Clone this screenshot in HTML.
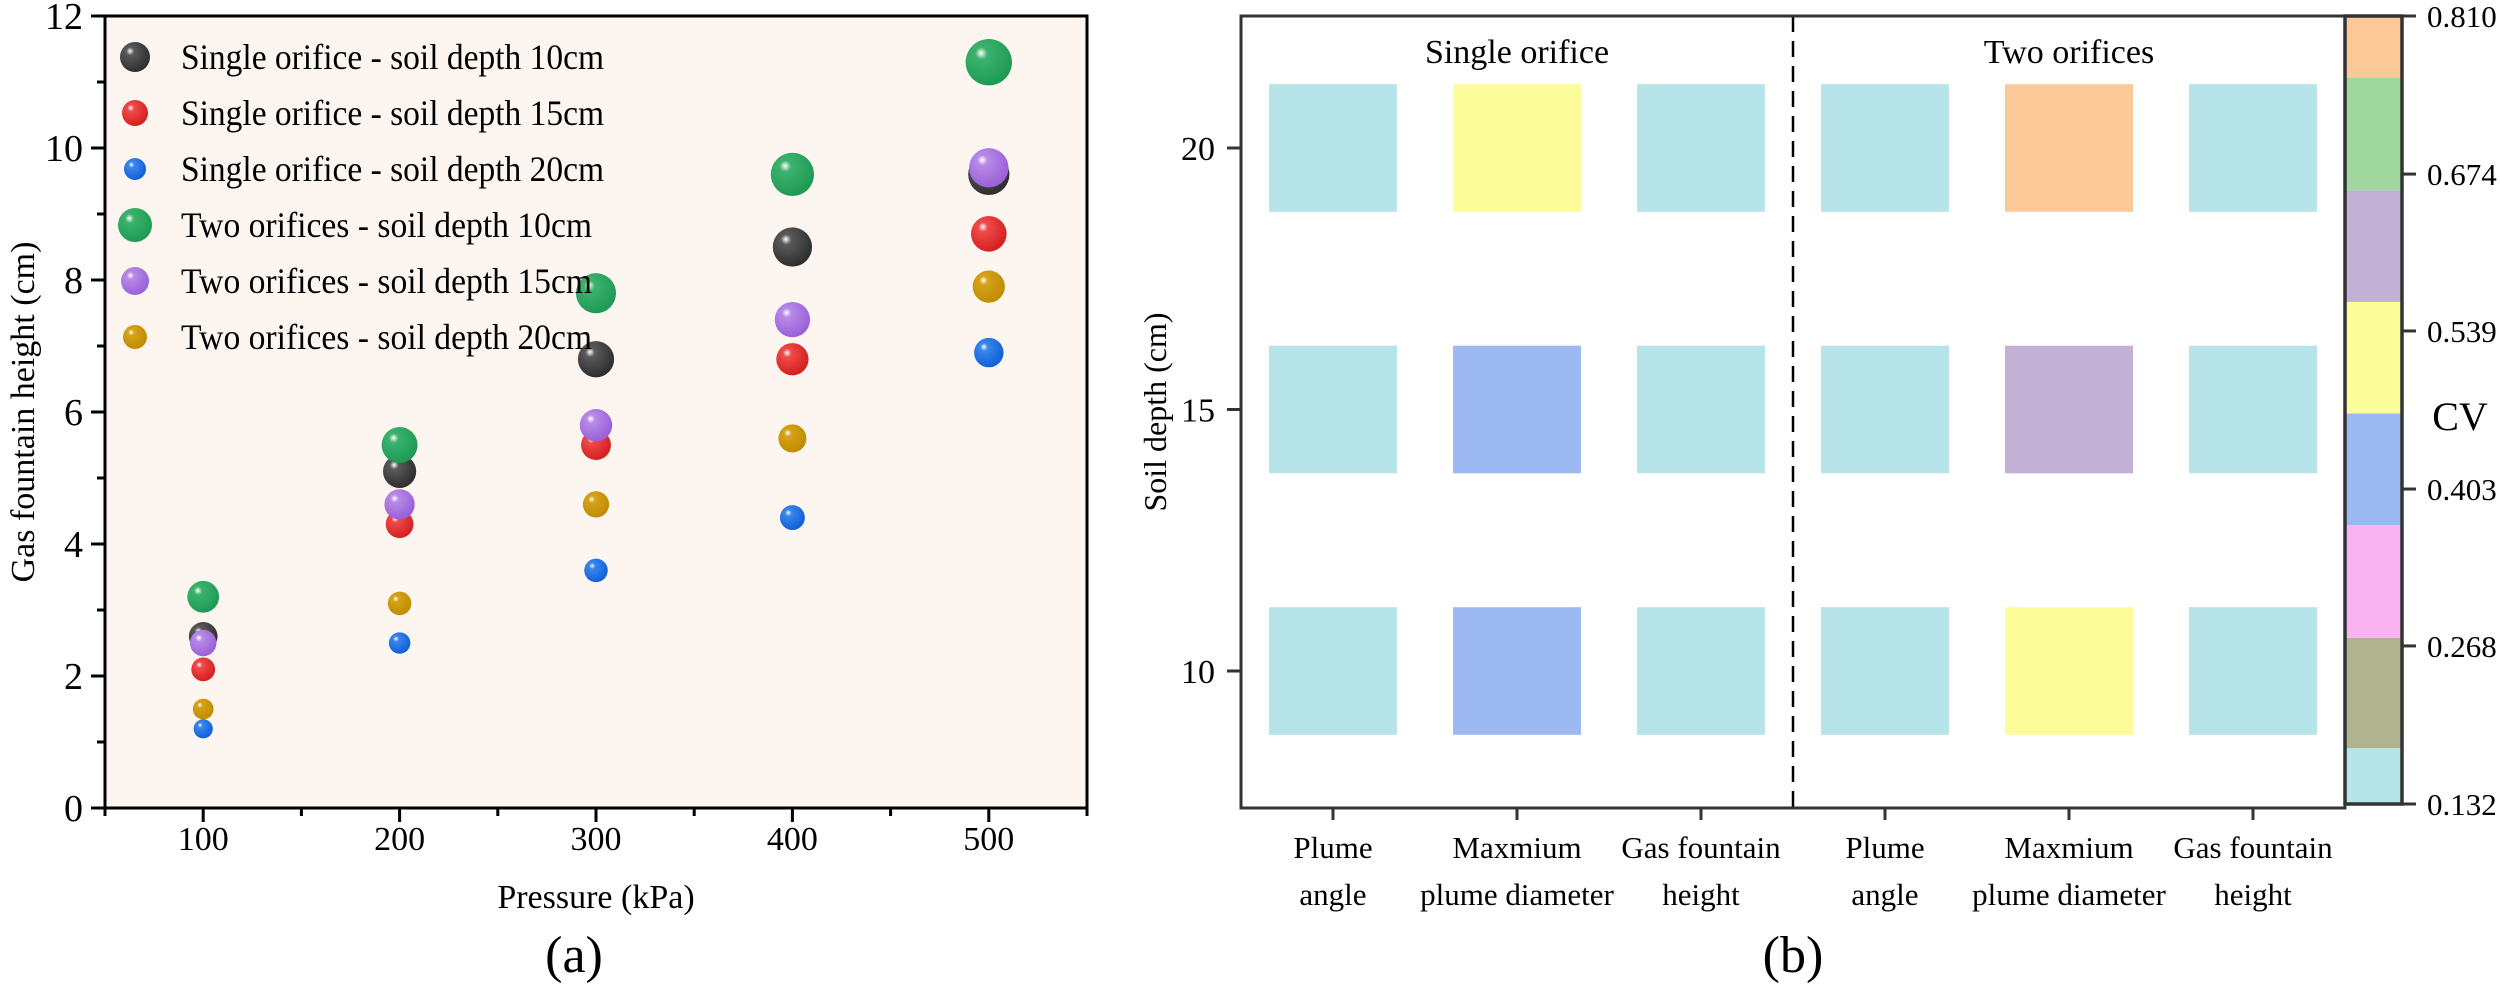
<!DOCTYPE html>
<html><head><meta charset="utf-8"><style>
html,body{margin:0;padding:0;background:#fff;}
svg, svg text{font-family:"Liberation Serif","Times New Roman","Tinos","Nimbus Roman","DejaVu Serif",serif;}
</style></head><body>
<svg id="svg" width="2500" height="992" viewBox="0 0 2500 992" xmlns="http://www.w3.org/2000/svg">
<defs id="defs"></defs>
<g id="left"></g>
<g id="right"></g>
</svg>
<script>
// ---- chart (a) data ----
const pressures = [100, 200, 300, 400, 500];
const seriesNames = ["Single orifice - soil depth 10cm","Single orifice - soil depth 15cm","Single orifice - soil depth 20cm","Two orifices - soil depth 10cm","Two orifices - soil depth 15cm","Two orifices - soil depth 20cm"];
const s10 = [2.6, 5.1, 6.8, 8.5, 9.6];
const s15 = [2.1, 4.3, 5.5, 6.8, 8.7];
const s20 = [1.2, 2.5, 3.6, 4.4, 6.9];
const t10 = [3.2, 5.5, 7.8, 9.6, 11.3];
const t15 = [2.5, 4.6, 5.8, 7.4, 9.7];
const t20 = [1.5, 3.1, 4.6, 5.6, 7.9];
const yTicksA = [0, 2, 4, 6, 8, 10, 12];
const xTicksA = [100, 200, 300, 400, 500];
// ---- chart (b) data ----
const categories = [["Plume","angle"],["Maxmium","plume diameter"],["Gas fountain","height"],["Plume","angle"],["Maxmium","plume diameter"],["Gas fountain","height"]];
const depths = [10, 15, 20];
const cv20 = [0.15, 0.52, 0.15, 0.15, 0.78, 0.15];
const cv15 = [0.15, 0.42, 0.15, 0.15, 0.60, 0.15];
const cv10 = [0.15, 0.42, 0.15, 0.15, 0.52, 0.15];
const yTicksB = [10, 15, 20];
const cbTicks = ["0.132","0.268","0.403","0.539","0.674","0.810"];
const cbBounds = [0.132, 0.180, 0.275, 0.372, 0.468, 0.564, 0.660, 0.757, 0.810];
const cbColors = ["#b6e4e9","#b0b48e","#f9b3f2","#9db9f1","#fdfc9b","#c2b1d4","#9fd79e","#fbc898"];

const NS="http://www.w3.org/2000/svg";
const FF="Liberation Serif, Times New Roman, Tinos, Nimbus Roman, DejaVu Serif, serif";
function mk(tag, attrs, parent){const e=document.createElementNS(NS,tag);for(const k in attrs)e.setAttribute(k,attrs[k]);if(tag==='text')e.setAttribute('font-family',FF);parent.appendChild(e);return e;}
const defs=document.getElementById('defs');
const L=document.getElementById('left'), R=document.getElementById('right');

// ---------- chart (a) ----------
const ax0=105, ax1=1087, ay0=808, ay1=16;
const xA=v=>ax0+(v-50)/500*(ax1-ax0);
const yA=v=>ay0-v/12*(ay0-ay1);
const colors=[["#5a5a5a","#2e2e2e"],["#f04a4a","#d42020"],["#3a86ee","#1060d8"],["#3cb36d","#1e9a55"],["#b88ae8","#9a60d8"],["#d6a21a","#c08c00"]];
const series=[s10,s15,s20,t10,t15,t20];
const baseR=[12,10,8.5,13,11,9];
colors.forEach((c,i)=>{
  const g=mk('radialGradient',{id:'g'+i,cx:'0.38',cy:'0.35',r:'0.65',fx:'0.33',fy:'0.3'},defs);
  mk('stop',{offset:'0','stop-color':'#ffffff'},g);
  mk('stop',{offset:'0.2','stop-color':c[0]},g);
  mk('stop',{offset:'1','stop-color':c[1]},g);
});
const bgA=mk('rect',{x:ax0,y:ay1,width:ax1-ax0,height:ay0-ay1,fill:'#fdf5f0'},L);


series.forEach((arr,si)=>{
  const grp=mk('g',{},L);
  
  
  arr.forEach((v,j)=>{
    const c=mk('circle',{cx:xA(pressures[j]),cy:yA(v),r:baseR[si]+0.9*v,fill:'url(#g'+si+')'},grp);
    
    
  });
});
mk('rect',{x:ax0,y:ay1,width:ax1-ax0,height:ay0-ay1,fill:'none',stroke:'#000','stroke-width':3},L);
for(let v=0;v<=12;v++){
  const major=v%2===0;
  mk('line',{x1:ax0,x2:ax0-(major?14:8),y1:yA(v),y2:yA(v),stroke:'#000','stroke-width':3},L);
}
yTicksA.forEach(v=>{
  const t=mk('text',{x:ax0-22,y:yA(v)+13,'text-anchor':'end','font-size':38},L);t.textContent=v;
  
  
});
for(let v=50;v<=550;v+=50){
  const major=v%100===0;
  mk('line',{x1:xA(v),x2:xA(v),y1:ay0,y2:ay0+(major?14:8),stroke:'#000','stroke-width':3},L);
}
xTicksA.forEach(v=>{
  const t=mk('text',{x:xA(v),y:850,'text-anchor':'middle','font-size':34},L);t.textContent=v;
  
  
});
let t=mk('text',{x:596,y:908,'text-anchor':'middle','font-size':34},L);t.textContent='Pressure (kPa)';


t=mk('text',{x:0,y:0,'text-anchor':'middle','font-size':34,transform:'translate(34,412) rotate(-90)'},L);t.textContent='Gas fountain height (cm)';


t=mk('text',{x:574,y:972,'text-anchor':'middle','font-size':52},L);t.textContent='(a)';


seriesNames.forEach((n,i)=>{
  const y=57+i*56;
  const c=mk('circle',{cx:135,cy:y,r:[15,13,11,17,14,12][i],fill:'url(#g'+i+')'},L);
  
  
  const tx=mk('text',{x:181,y:y+12,'font-size':36,textLength:(i<3?423:411),lengthAdjust:'spacingAndGlyphs'},L);tx.textContent=n;
  
  
});

// ---------- chart (b) ----------
const bx0=1241, bx1=2345, by0=808, by1=16;
const band=(bx1-bx0)/6;
const xB=i=>bx0+(i+0.5)*band;
const yB=v=>148+(20-v)/10*(671-148);
function cvColor(v){for(let i=0;i<cbColors.length;i++){if(v<=cbBounds[i+1])return cbColors[i];}return cbColors[cbColors.length-1];}
const rows=[cv10,cv15,cv20];
rows.forEach((arr,ri)=>{
  arr.forEach((v,ci)=>{
    const w=128, h=yB(depths[ri]-1.22)-yB(depths[ri]+1.22);
    const r=mk('rect',{x:xB(ci)-w/2,y:yB(depths[ri]+1.22),width:w,height:h,fill:cvColor(v)},R);
    
    
  });
});
mk('line',{x1:(bx0+bx1)/2,x2:(bx0+bx1)/2,y1:by1,y2:by0,stroke:'#000','stroke-width':2.5,'stroke-dasharray':'16,9'},R);
mk('rect',{x:bx0,y:by1,width:bx1-bx0,height:by0-by1,fill:'none',stroke:'#333','stroke-width':3},R);
yTicksB.forEach(v=>{
  mk('line',{x1:bx0,x2:bx0-14,y1:yB(v),y2:yB(v),stroke:'#333','stroke-width':3},R);
  const tx=mk('text',{x:bx0-26,y:yB(v)+12,'text-anchor':'end','font-size':34},R);tx.textContent=v;
  
  
});
categories.forEach((c,i)=>{
  mk('line',{x1:xB(i),x2:xB(i),y1:by0,y2:by0+12,stroke:'#333','stroke-width':3},R);
  const tx=mk('text',{x:xB(i),y:858,'text-anchor':'middle','font-size':31},R);tx.textContent=c[0];
  
  
  const tx2=mk('text',{x:xB(i),y:905,'text-anchor':'middle','font-size':31},R);tx2.textContent=c[1];
  
  
});
t=mk('text',{x:(bx0+(bx0+bx1)/2)/2,y:63,'text-anchor':'middle','font-size':34},R);t.textContent='Single orifice';


t=mk('text',{x:((bx0+bx1)/2+bx1)/2,y:63,'text-anchor':'middle','font-size':34},R);t.textContent='Two orifices';


t=mk('text',{x:0,y:0,'text-anchor':'middle','font-size':32,transform:'translate(1166,412) rotate(-90)'},R);t.textContent='Soil depth (cm)';


t=mk('text',{x:1793,y:972,'text-anchor':'middle','font-size':52},R);t.textContent='(b)';


// colorbar
const cbx=2345, cbw=57;
const yCB=v=> 16+(0.810-v)/(0.810-0.132)*(804-16);
cbColors.forEach((c,i)=>{
  const r=mk('rect',{x:cbx,y:yCB(cbBounds[i+1]),width:cbw,height:yCB(cbBounds[i])-yCB(cbBounds[i+1]),fill:c},R);
  
  
});
mk('rect',{x:cbx,y:16,width:cbw,height:788,fill:'none',stroke:'#333','stroke-width':3.5},R);
cbTicks.forEach(s=>{
  const y=yCB(parseFloat(s));
  mk('line',{x1:cbx+cbw,x2:cbx+cbw+14,y1:y,y2:y,stroke:'#333','stroke-width':3},R);
  const tx=mk('text',{x:2427,y:y+11,'font-size':31},R);tx.textContent=s;
  
  
});
t=mk('text',{x:2460,y:430,'text-anchor':'middle','font-size':40},R);t.textContent='CV';


</script>
</body></html>
